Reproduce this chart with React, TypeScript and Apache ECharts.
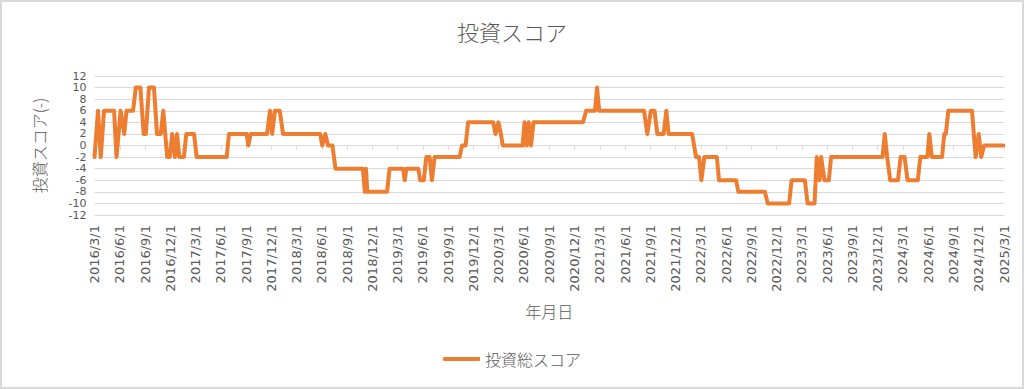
import React, { useEffect, useRef } from "react";
import * as echarts from "echarts";

const TITLE = "投資スコア";
const SERIES_NAME = "投資総スコア";
const X_NAME = "年月日";
const Y_NAME = "投資スコア(-)";

const TICK_LABELS = [
  "2016/3/1", "2016/6/1", "2016/9/1", "2016/12/1",
  "2017/3/1", "2017/6/1", "2017/9/1", "2017/12/1",
  "2018/3/1", "2018/6/1", "2018/9/1", "2018/12/1",
  "2019/3/1", "2019/6/1", "2019/9/1", "2019/12/1",
  "2020/3/1", "2020/6/1", "2020/9/1", "2020/12/1",
  "2021/3/1", "2021/6/1", "2021/9/1", "2021/12/1",
  "2022/3/1", "2022/6/1", "2022/9/1", "2022/12/1",
  "2023/3/1", "2023/6/1", "2023/9/1", "2023/12/1",
  "2024/3/1", "2024/6/1", "2024/9/1", "2024/12/1",
  "2025/3/1",
];

const DATES = [
  "2016/3/1", "2016/3/3", "2016/3/14", "2016/3/24", "2016/4/5", "2016/5/11", "2016/5/20", "2016/6/4",
  "2016/6/17", "2016/6/25", "2016/7/19", "2016/7/29", "2016/8/15", "2016/8/27", "2016/9/4", "2016/9/15",
  "2016/10/3", "2016/10/14", "2016/10/28", "2016/11/6", "2016/11/20", "2016/11/29", "2016/12/8", "2016/12/18",
  "2016/12/26", "2017/1/3", "2017/1/20", "2017/1/29", "2017/2/24", "2017/3/5", "2017/6/22", "2017/6/30",
  "2017/9/3", "2017/9/9", "2017/9/17", "2017/11/16", "2017/11/26", "2017/12/4", "2017/12/14", "2018/1/1",
  "2018/1/13", "2018/5/26", "2018/6/2", "2018/6/13", "2018/6/23", "2018/7/9", "2018/7/20", "2018/10/28",
  "2018/11/4", "2018/11/8", "2018/11/13", "2019/1/24", "2019/2/2", "2019/3/21", "2019/3/27", "2019/4/2",
  "2019/5/15", "2019/5/22", "2019/6/4", "2019/6/13", "2019/6/25", "2019/7/3", "2019/7/13", "2019/10/12",
  "2019/10/21", "2019/11/3", "2019/11/12", "2020/2/11", "2020/2/19", "2020/2/29", "2020/3/9", "2020/3/16",
  "2020/5/27", "2020/6/3", "2020/6/11", "2020/6/18", "2020/6/26", "2020/7/5", "2021/1/1", "2021/1/13",
  "2021/2/13", "2021/2/20", "2021/2/27", "2021/8/9", "2021/8/21", "2021/9/3", "2021/9/16", "2021/9/26",
  "2021/10/19", "2021/10/29", "2021/11/6", "2022/1/31", "2022/2/13", "2022/2/23", "2022/3/3", "2022/3/14",
  "2022/4/28", "2022/5/6", "2022/7/7", "2022/7/15", "2022/10/20", "2022/10/30", "2023/1/16", "2023/1/25",
  "2023/3/12", "2023/3/22", "2023/4/16", "2023/4/24", "2023/5/4", "2023/5/10", "2023/5/22", "2023/6/7",
  "2023/6/15", "2023/12/19", "2023/12/27", "2024/1/5", "2024/1/16", "2024/2/13", "2024/2/22", "2024/3/7",
  "2024/3/18", "2024/4/24", "2024/5/3", "2024/5/29", "2024/6/5", "2024/6/14", "2024/7/21", "2024/7/29",
  "2024/8/4", "2024/8/13", "2024/11/7", "2024/11/20", "2024/12/1", "2024/12/10", "2024/12/21", "2025/2/27",
];

const SCORES = [
  -2, -2, 6, -2, 6, 6, -2, 6,
  2, 6, 6, 10, 10, 2, 2, 10,
  10, 2, 2, 6, -2, -2, 2, -2,
  2, -2, -2, 2, 2, -2, -2, 2,
  2, 0, 2, 2, 6, 2, 6, 6,
  2, 2, 0, 2, 0, 0, -4, -4,
  -8, -4, -8, -8, -4, -4, -6, -4,
  -4, -6, -6, -2, -2, -6, -2, -2,
  0, 0, 4, 4, 2, 4, 2, 0,
  0, 4, 0, 4, 0, 4, 4, 6,
  6, 10, 6, 6, 2, 6, 6, 2,
  2, 6, 2, 2, -2, -2, -6, -2,
  -2, -6, -6, -8, -8, -10, -10, -6,
  -6, -10, -10, -2, -6, -2, -6, -6,
  -2, -2, 2, -2, -6, -6, -2, -2,
  -6, -6, -2, -2, 2, -2, -2, 2,
  2, 6, 6, -2, 2, -2, 0, 0,
];

// Convert a date string to months elapsed since 2016/3/1 (axis unit)
function monthIndex(s: string): number {
  const [y, m, d] = s.split("/").map(Number);
  const dim = new Date(y, m, 0).getDate();
  return (y - 2016) * 12 + (m - 3) + (d - 1) / dim;
}

const X_MIN = 0;
const X_MAX = (TICK_LABELS.length - 1) * 3;

export default function App() {
  const ref = useRef<HTMLDivElement>(null);

  useEffect(() => {
    document.body.style.margin = "0";
    if (!ref.current) return;
    const chart = echarts.init(ref.current, undefined, { renderer: "svg" });
    const data = DATES.map((d, i) => [monthIndex(d), SCORES[i]]);
    const textColor = "#595959";
    const gridColor = "#D9D9D9";
    const cjk = "'Noto Sans CJK JP', sans-serif";
    chart.setOption({
      animation: false,
      backgroundColor: "#FFFFFF",
      textStyle: { fontFamily: cjk },
      title: {
        text: TITLE,
        left: "center",
        top: 15,
        textStyle: { fontSize: 22, fontWeight: 300, color: textColor, fontFamily: cjk },
      },
      legend: {
        bottom: 17,
        left: "center",
        icon: "roundRect",
        itemWidth: 37,
        itemHeight: 4,
        itemGap: 2,
        textStyle: { fontSize: 16, color: textColor, fontFamily: cjk, fontWeight: 300 },
        data: [SERIES_NAME],
      },
      graphic: [
        {
          type: "rect",
          shape: { x: 1, y: 1, width: 1022, height: 387 },
          style: { fill: "none", stroke: gridColor, lineWidth: 2 },
          silent: true,
        },
      ],
      grid: { left: 94.5, right: 20, top: 76, height: 139, containLabel: false },
      xAxis: [
        {
          type: "value",
          min: X_MIN,
          max: X_MAX,
          interval: 3,
          axisLine: { show: true, onZero: true, lineStyle: { color: gridColor, width: 1 } },
          axisTick: { show: true, length: 4, lineStyle: { color: gridColor } },
          axisLabel: { show: false },
          splitLine: { show: false },
        },
        {
          type: "value",
          position: "bottom",
          min: X_MIN,
          max: X_MAX,
          interval: 3,
          name: X_NAME,
          nameLocation: "middle",
          nameGap: 88,
          nameTextStyle: { fontSize: 16, color: textColor, fontFamily: cjk, fontWeight: 300 },
          axisLine: { show: false, onZero: false },
          axisTick: { show: false },
          splitLine: { show: false },
          axisLabel: {
            show: true,
            rotate: 90,
            margin: 10,
            fontSize: 13,
            color: textColor,
            fontFamily: "'DejaVu Sans', sans-serif",
            showMinLabel: true,
            showMaxLabel: true,
            hideOverlap: false,
            formatter: (v: number) => TICK_LABELS[Math.round(v / 3)] ?? "",
          },
        },
      ],
      yAxis: {
        type: "value",
        min: -12,
        max: 12,
        interval: 2,
        name: Y_NAME,
        nameLocation: "middle",
        nameGap: 48,
        nameTextStyle: { fontSize: 16, color: textColor, fontFamily: cjk, fontWeight: 300 },
        axisLine: { show: false },
        axisTick: { show: false },
        splitLine: { show: true, lineStyle: { color: gridColor, width: 1 } },
        axisLabel: {
          fontSize: 11,
          lineHeight: 10,
          color: textColor,
          margin: 8,
          fontFamily: "'DejaVu Sans', sans-serif",
          showMinLabel: true,
          showMaxLabel: true,
          hideOverlap: false,
        },
      },
      series: [
        {
          name: SERIES_NAME,
          type: "line",
          xAxisIndex: 0,
          data,
          symbol: "none",
          itemStyle: { color: "#ED7D31" },
          lineStyle: { color: "#ED7D31", width: 4, cap: "round", join: "round" },
        },
      ],
    });
    return () => chart.dispose();
  }, []);

  return <div ref={ref} style={{ width: 1024, height: 389 }} />;
}
